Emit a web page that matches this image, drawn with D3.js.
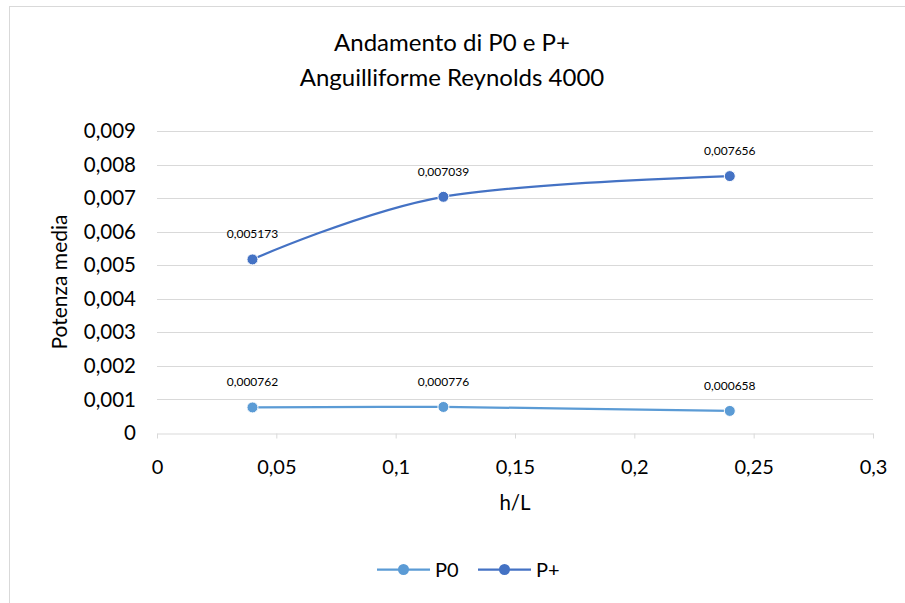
<!DOCTYPE html>
<html>
<head>
<meta charset="utf-8">
<script src="https://cdn.jsdelivr.net/npm/d3@7"></script>
<style>
  html, body { margin: 0; padding: 0; background: #fff; }
  svg text { font-family: Lato, "Open Sans", sans-serif; fill: #000; }
</style>
</head>
<body>
<div class="chart"></div>
<script>
// data
const hL = [0.04, 0.12, 0.24];
const p0 = [0.000762, 0.000776, 0.000658];
const pPlus = [0.005173, 0.007039, 0.007656];
const seriesNames = ['P0', 'P+'];
const xTicks = [0, 0.05, 0.1, 0.15, 0.2, 0.25, 0.3];
const yTicks = [0, 0.001, 0.002, 0.003, 0.004, 0.005, 0.006, 0.007, 0.008, 0.009];

const colors = { 'P0': '#5b9bd5', 'P+': '#4472c4' };
const fmt = v => String(v).replace('.', ',');

const svg = d3.select('.chart').append('svg')
  .attr('width', 905)
  .attr('height', 603);

// chart frame
svg.append('rect')
  .attr('x', 9.5).attr('y', 6.5)
  .attr('width', 920).attr('height', 620)
  .attr('fill', '#fff')
  .attr('stroke', '#d9d9d9');

const x = d3.scaleLinear().domain([0, 0.3]).range([157, 873]);
const y = d3.scaleLinear().domain([0, 0.009]).range([433, 131]);

// title
const title = svg.append('text')
  .attr('text-anchor', 'middle')
  .attr('font-size', 24);
title.append('tspan').attr('x', 452).attr('y', 51).text('Andamento di P0 e P+');
title.append('tspan').attr('x', 452).attr('y', 86).text('Anguilliforme Reynolds 4000');

// gridlines
svg.append('g')
  .selectAll('line')
  .data(yTicks.filter(d => d > 0))
  .enter().append('line')
  .attr('x1', x(0)).attr('x2', x(0.3))
  .attr('y1', d => Math.round(y(d)) + 0.5)
  .attr('y2', d => Math.round(y(d)) + 0.5)
  .attr('stroke', '#d9d9d9')
  .attr('stroke-width', 1);

// x axis
const xAxis = svg.append('g')
  .attr('transform', `translate(0,${Math.round(y(0)) + 0.5})`)
  .call(d3.axisBottom(x).tickValues(xTicks).tickFormat(fmt).tickSize(5).tickSizeOuter(0).tickPadding(21));
xAxis.select('.domain').attr('stroke', '#d9d9d9');
xAxis.selectAll('.tick line').attr('stroke', '#d9d9d9');
xAxis.selectAll('.tick text').attr('font-size', 20).attr('fill', '#000');

// y axis labels
const yAxis = svg.append('g')
  .attr('transform', `translate(${x(0)},0)`)
  .call(d3.axisLeft(y).tickValues(yTicks).tickFormat(fmt).tickSize(0).tickPadding(21));
yAxis.select('.domain').remove();
yAxis.selectAll('.tick text').attr('font-size', 20.5).attr('fill', '#000');

// axis titles
svg.append('text')
  .attr('x', (x(0) + x(0.3)) / 2).attr('y', 510)
  .attr('text-anchor', 'middle')
  .attr('font-size', 20.5)
  .text('h/L');
svg.append('text')
  .attr('transform', `translate(67,${(y(0) + y(0.009)) / 2}) rotate(-90)`)
  .attr('text-anchor', 'middle')
  .attr('font-size', 21)
  .text('Potenza media');

// Excel-like smoothing: bezier with tangents (next - prev) / 6, flat control at the ends
function smoothPath(pts) {
  const p = d3.path();
  p.moveTo(pts[0][0], pts[0][1]);
  for (let i = 0; i < pts.length - 1; i++) {
    const a = pts[i], b = pts[i + 1];
    const prev = pts[i - 1], next = pts[i + 2];
    const c1 = prev ? [a[0] + (b[0] - prev[0]) / 6, a[1] + (b[1] - prev[1]) / 6] : a;
    const c2 = next ? [b[0] - (next[0] - a[0]) / 6, b[1] - (next[1] - a[1]) / 6] : b;
    p.bezierCurveTo(c1[0], c1[1], c2[0], c2[1], b[0], b[1]);
  }
  return p.toString();
}

// series
const series = [
  { name: 'P0', values: p0 },
  { name: 'P+', values: pPlus }
];

series.forEach(s => {
  const pts = hL.map((h, i) => [h, s.values[i]]);
  const g = svg.append('g');
  g.append('path')
    .attr('d', smoothPath(pts.map(d => [x(d[0]), y(d[1])])))
    .attr('fill', 'none')
    .attr('stroke', colors[s.name])
    .attr('stroke-width', 2.25);
  g.selectAll('circle')
    .data(pts)
    .enter().append('circle')
    .attr('cx', d => x(d[0]))
    .attr('cy', d => y(d[1]))
    .attr('r', 5.5)
    .attr('fill', colors[s.name])
    .attr('stroke', '#fff')
    .attr('stroke-width', 1);
  g.selectAll('text')
    .data(pts)
    .enter().append('text')
    .attr('x', d => x(d[0]))
    .attr('y', d => y(d[1]) - 21)
    .attr('text-anchor', 'middle')
    .attr('font-size', 12)
    .text(d => fmt(d[1]));
});

// legend
const legend = svg.append('g');
seriesNames.forEach((name, i) => {
  const lx = 377 + i * 101;
  const ly = 569.5;
  legend.append('line')
    .attr('x1', lx).attr('x2', lx + 53)
    .attr('y1', ly).attr('y2', ly)
    .attr('stroke', colors[name])
    .attr('stroke-width', 2.25);
  legend.append('circle')
    .attr('cx', lx + 26.5).attr('cy', ly)
    .attr('r', 5.5)
    .attr('fill', colors[name]);
  legend.append('text')
    .attr('x', lx + 58).attr('y', ly + 7)
    .attr('font-size', 20)
    .text(name);
});
</script>
</body>
</html>
